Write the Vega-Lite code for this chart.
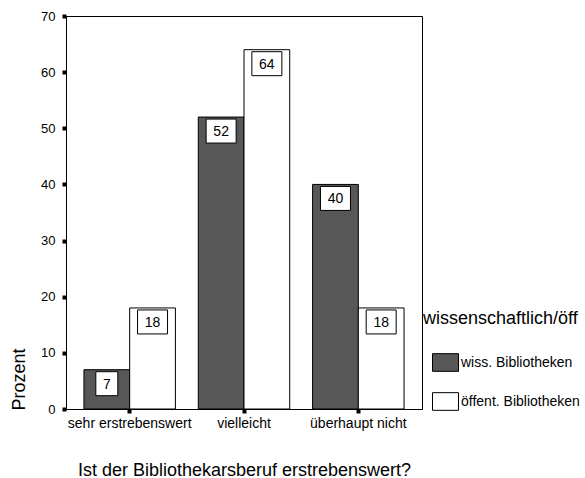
{
  "$schema": "https://vega.github.io/schema/vega-lite/v6.json",
  "autosize": {"type": "none"},
  "padding": {"left": 66, "top": 16, "right": 163, "bottom": 69},
  "width": 356,
  "height": 393,
  "background": "white",
  "config": {
    "font": "Liberation Sans",
    "view": {"stroke": "black", "strokeWidth": 1},
    "axis": {
      "domainColor": "black",
      "tickColor": "black",
      "labelColor": "black",
      "titleColor": "black",
      "grid": false,
      "labelFont": "Liberation Sans",
      "titleFont": "Liberation Sans",
      "labelFontSize": 13,
      "titleFontSize": 18,
      "titleFontWeight": "normal"
    },
    "legend": {
      "labelFont": "Liberation Sans",
      "titleFont": "Liberation Sans"
    }
  },
  "data": {
    "values": [
      {"antwort": "sehr erstrebenswert", "typ": "wiss. Bibliotheken", "value": 7},
      {"antwort": "sehr erstrebenswert", "typ": "öffent. Bibliotheken", "value": 18},
      {"antwort": "vielleicht", "typ": "wiss. Bibliotheken", "value": 52},
      {"antwort": "vielleicht", "typ": "öffent. Bibliotheken", "value": 64},
      {"antwort": "überhaupt nicht", "typ": "wiss. Bibliotheken", "value": 40},
      {"antwort": "überhaupt nicht", "typ": "öffent. Bibliotheken", "value": 18}
    ]
  },
  "encoding": {
    "x": {
      "field": "antwort",
      "type": "nominal",
      "sort": ["sehr erstrebenswert", "vielleicht", "überhaupt nicht"],
      "scale": {"paddingInner": 0.2, "paddingOuter": 0.157},
      "axis": {
        "title": "Ist der Bibliothekarsberuf erstrebenswert?",
        "labelAngle": 0,
        "labelFontSize": 14,
        "tickSize": 4,
        "tickWidth": 4,
        "labelPadding": 3,
        "titleBaseline": "alphabetic",
        "titleY": 66
      }
    },
    "xOffset": {
      "field": "typ",
      "type": "nominal",
      "sort": ["wiss. Bibliotheken", "öffent. Bibliotheken"],
      "scale": {"paddingInner": 0, "paddingOuter": 0}
    },
    "y": {
      "field": "value",
      "type": "quantitative",
      "scale": {"domain": [0, 70], "nice": false},
      "axis": {
        "title": "Prozent",
        "values": [0, 10, 20, 30, 40, 50, 60, 70],
        "tickSize": 4,
        "tickWidth": 4,
        "labelPadding": 7,
        "titleAngle": -90,
        "titleAlign": "left",
        "titleBaseline": "top",
        "titleX": -56,
        "titleY": 394
      }
    }
  },
  "layer": [
    {
      "mark": {"type": "bar", "stroke": "black", "strokeWidth": 1},
      "encoding": {
        "color": {
          "field": "typ",
          "type": "nominal",
          "scale": {
            "domain": ["wiss. Bibliotheken", "öffent. Bibliotheken"],
            "range": ["#575757", "#ffffff"]
          },
          "legend": {
            "title": "wissenschaftlich/öff",
            "orient": "none",
            "legendX": 357,
            "legendY": 294,
            "padding": 0,
            "titleFontSize": 18,
            "titleFontWeight": "normal",
            "titleColor": "black",
            "titlePadding": 21,
            "labelFontSize": 14,
            "labelColor": "black",
            "labelOffset": 2,
            "symbolType": "M-1,-0.68H1V0.68H-1Z",
            "symbolSize": 676,
            "symbolStrokeColor": "black",
            "symbolStrokeWidth": 1,
            "symbolOffset": 9,
            "rowPadding": 14
          }
        }
      }
    },
    {
      "mark": {"type": "point", "filled": true, "fill": "white", "stroke": "black", "strokeWidth": 1, "opacity": 1, "yOffset": 14},
      "encoding": {
        "shape": {
          "condition": {"test": "datum.value < 10", "value": "M-0.733,-0.8H0.733V0.8H-0.733Z"},
          "value": "M-1,-0.8H1V0.8H-1Z"
        },
        "size": {"value": 900}
      }
    },
    {
      "mark": {"type": "text", "fontSize": 14, "color": "black", "baseline": "middle", "align": "center", "yOffset": 15},
      "encoding": {
        "text": {"field": "value", "type": "quantitative"}
      }
    }
  ]
}
